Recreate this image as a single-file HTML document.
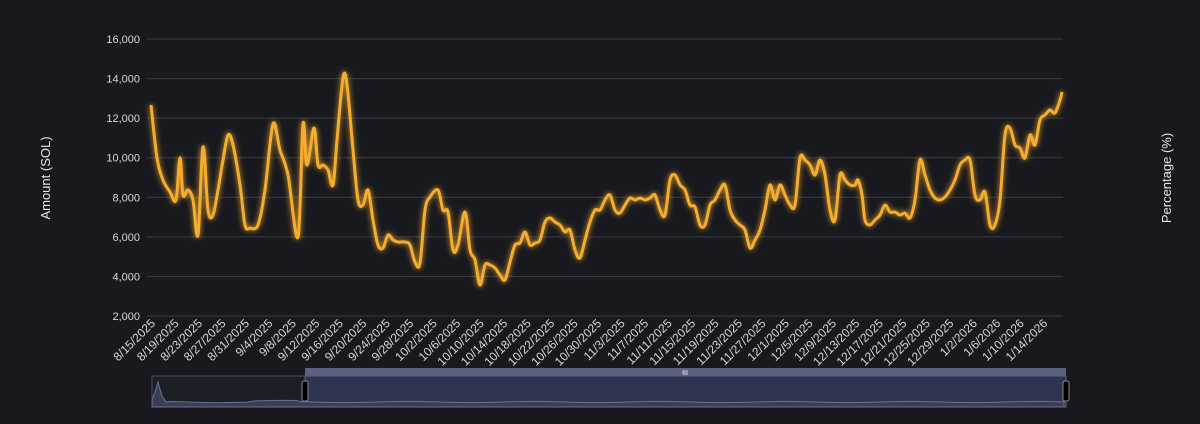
<!DOCTYPE html>
<html><head><meta charset="utf-8"><style>
html,body{margin:0;padding:0;background:#18191e;}
svg{display:block;font-family:"Liberation Sans",sans-serif;}
</style></head><body>
<svg id="s" width="1200" height="424" viewBox="0 0 1200 424" xmlns="http://www.w3.org/2000/svg">
<defs>
<filter id="glow" x="-10%" y="-20%" width="120%" height="140%">
<feGaussianBlur stdDeviation="3" result="b"/>
<feMerge><feMergeNode in="b"/><feMergeNode in="SourceGraphic"/></feMerge>
</filter>
</defs>
<rect width="1200" height="424" fill="#18191e"/>
<g id="grid" stroke="#3a3b40" stroke-width="1"></g>
<g id="ylab" fill="#d6d6d6" font-size="11" text-anchor="end"></g>
<text transform="translate(50,178) rotate(-90)" fill="#e6e6e6" font-size="13" text-anchor="middle">Amount (SOL)</text>
<text transform="translate(1171,178) rotate(-90)" fill="#e6e6e6" font-size="13" text-anchor="middle">Percentage (%)</text>
<path id="line" fill="none" stroke="#f4ad2e" stroke-width="3" stroke-linejoin="round" filter="url(#glow)"/>
<g id="xlab" fill="#d6d6d6" font-size="12" text-anchor="end"></g>
<rect x="152" y="376" width="913" height="31" fill="#1c1e26" stroke="#4a5068" stroke-width="1"/>
<rect x="305" y="368" width="761" height="8" fill="#5a6080"/>
<text x="685" y="375" fill="#fff" font-size="7" text-anchor="middle">III</text>
<rect x="305" y="376" width="761" height="31" fill="#2f3550" stroke="#5a6080"/>
<path id="mini" fill="#3a3f55" stroke="#6a7090" stroke-width="1"/>
<rect x="302" y="381" width="6" height="20" rx="2" fill="#000" stroke="#888"/>
<rect x="1063" y="381" width="6" height="20" rx="2" fill="#000" stroke="#888"/>
</svg>
<script>
var ns="http://www.w3.org/2000/svg";
function el(t,a,txt,p){var e=document.createElementNS(ns,t);for(var k in a)e.setAttribute(k,a[k]);if(txt)e.textContent=txt;document.getElementById(p).appendChild(e);return e;}
for(var i=0;i<8;i++){var y=316-i*39.57;el('line',{x1:147,x2:1063,y1:y,y2:y},null,'grid');el('text',{x:140,y:y+4},(2000+i*2000).toLocaleString('en-US'),'ylab');}
var d0=new Date(2025,7,15);
for(var k=0;k<39;k++){var dt=new Date(d0.getTime()+k*4*86400000);var x=151+k*4*5.87;
var s=(dt.getMonth()+1)+'/'+dt.getDate()+'/'+dt.getFullYear();
el('text',{transform:'translate('+(x+5)+',324) rotate(-45)'},s,'xlab');}
var P=[[151,105],[157,158],[163,180],[170,192],[176,200],[180,158],[183,195],[188,190],[193,200],[198,235],[203,147],[208,210],[213,215],[218,190],[223,160],[228,135],[233,145],[240,185],[245,225],[250,228],[258,225],[265,190],[273,124],[280,150],[288,175],[298,237],[303,124],[307,165],[314,128],[318,165],[323,165],[328,170],[333,185],[337,140],[343,78],[347,85],[353,150],[358,200],[363,205],[368,190],[373,220],[378,245],[383,248],[388,235],[393,240],[398,242],[405,242],[410,245],[415,262],[420,263],[425,210],[430,197],[438,190],[443,210],[448,212],[453,250],[458,245],[465,212],[470,250],[475,260],[480,285],[485,265],[490,265],[495,268],[500,275],[505,280],[510,262],[515,245],[520,243],[525,232],[530,245],[535,243],[540,240],[545,222],[550,218],[555,222],[560,225],[565,232],[570,230],[575,250],[580,258],[585,240],[590,222],[595,210],[600,210],[605,200],[610,195],[615,210],[620,213],[625,205],[630,198],[635,200],[640,198],[645,200],[650,198],[655,195],[660,210],[665,215],[670,180],[675,175],[680,185],[685,190],[690,205],[695,207],[700,225],[705,225],[710,205],[715,200],[720,190],[725,185],[730,210],[735,220],[740,225],[745,230],[750,248],[755,240],[760,230],[765,210],[770,185],[775,200],[780,185],[785,195],[790,205],[795,205],[800,158],[805,160],[810,165],[815,175],[820,160],[825,175],[830,210],[835,220],[840,175],[845,180],[850,185],[855,185],[858,180],[862,195],[865,220],[870,225],[875,220],[880,215],[885,205],[890,212],[895,212],[900,215],[905,213],[910,218],[915,200],[920,160],[925,175],[930,190],[935,198],[940,200],[945,197],[950,190],[955,180],[960,165],[965,160],[970,160],[975,195],[980,200],[985,192],[990,225],[995,225],[1000,200],[1005,135],[1010,128],[1015,145],[1020,148],[1025,158],[1030,135],[1035,145],[1040,120],[1045,115],[1050,110],[1055,113],[1060,100],[1062,92]];
function cr(P){var d='M'+P[0][0]+','+P[0][1];for(var i=0;i<P.length-1;i++){var p0=P[Math.max(0,i-1)],p1=P[i],p2=P[i+1],p3=P[Math.min(P.length-1,i+2)];
d+=' C'+(p1[0]+(p2[0]-p0[0])/6)+','+(p1[1]+(p2[1]-p0[1])/6)+' '+(p2[0]-(p3[0]-p1[0])/6)+','+(p2[1]-(p3[1]-p1[1])/6)+' '+p2[0]+','+p2[1];}return d;}
document.getElementById('line').setAttribute('d',cr(P));
var m='M152,407 L152,400 L155,392 L158,382 L162,396 L166,402 ';
for(var x=170;x<=1064;x+=6){var y=402-Math.sin(x*0.05)*0.6-(x>250&&x<300?1:0);m+='L'+x+','+y.toFixed(1)+' ';}
m+='L1064,407 Z';document.getElementById('mini').setAttribute('d',m);
</script>
</body></html>
